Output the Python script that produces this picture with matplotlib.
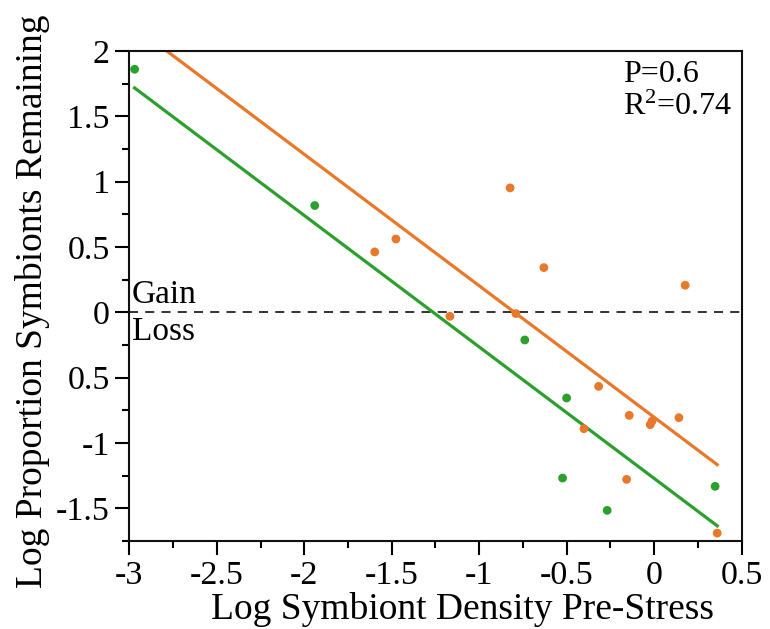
import matplotlib
matplotlib.use("Agg")
import matplotlib.pyplot as plt
import numpy as np
from matplotlib.ticker import MultipleLocator, FixedLocator, FixedFormatter

plt.rcParams['font.family'] = ['Liberation Serif', 'DejaVu Serif']
plt.rcParams['mathtext.fontset'] = 'custom'
plt.rcParams['mathtext.rm'] = 'Liberation Serif'
plt.rcParams['mathtext.default'] = 'regular'

# Data
green_x = [-2.97, -1.94, -0.739, -0.50, -0.523, -0.268, 0.349]
green_y = [1.86, 0.817, -0.212, -0.656, -1.269, -1.516, -1.332]

orange_x = [-1.597, -1.476, -0.823, -0.630, 0.178, -1.167, -0.79, -0.317,
            -0.142, -0.401, -0.022, -0.011, 0.142, -0.157, 0.361]
orange_y = [0.462, 0.561, 0.952, 0.342, 0.207, -0.031, -0.01, -0.567,
            -0.789, -0.891, -0.860, -0.832, -0.807, -1.279, -1.690]

# Fitted lines (common slope)
fit_slope = -1.006
green_intercept = -1.271
orange_intercept = -0.803
fit_x_range = [-2.97, 0.361]

x_ticks = [-3, -2.5, -2, -1.5, -1, -0.5, 0, 0.5]
x_tick_labels = ['-3', '-2.5', '-2', '-1.5', '-1', '-0.5', '0', '0.5']
y_ticks = [-1.5, -1, -0.5, 0, 0.5, 1, 1.5, 2]
y_tick_labels = ['-1.5', '-1', '0.5', '0', '0.5', '1', '1.5', '2']

GREEN = '#2ca02c'
ORANGE = '#e8782a'

fig = plt.figure(figsize=(7.7, 6.29), dpi=100)
ax = fig.add_axes([0.168, 0.140, 0.795, 0.779])

fx = np.array(fit_x_range)
ax.plot(fx, green_intercept + fit_slope * fx, color=GREEN, lw=2.3, zorder=2)
ax.plot(fx, orange_intercept + fit_slope * fx, color=ORANGE, lw=2.3, zorder=2)

ax.scatter(green_x, green_y, s=40, color=GREEN, edgecolors='none', zorder=3)
ax.scatter(orange_x, orange_y, s=40, color=ORANGE, edgecolors='none', zorder=3)

ax.plot([-3, 0.525], [0, 0], color='#222222', lw=1.3, ls=(0, (5, 4)),
        clip_on=False, zorder=1)

ax.set_xlim(-3, 0.5)
ax.set_ylim(-1.75, 2)

ax.xaxis.set_major_locator(FixedLocator(x_ticks))
ax.xaxis.set_major_formatter(FixedFormatter(x_tick_labels))
ax.yaxis.set_major_locator(FixedLocator(y_ticks))
ax.yaxis.set_major_formatter(FixedFormatter(y_tick_labels))
ax.xaxis.set_minor_locator(MultipleLocator(0.25))
ax.yaxis.set_minor_locator(MultipleLocator(0.25))

ax.tick_params(which='both', direction='out', top=False, right=False,
               width=1.5, colors='black', labelsize=24.5)
ax.tick_params(which='major', length=10)
ax.tick_params(which='minor', length=5)
ax.tick_params(axis='x', pad=4)
ax.tick_params(axis='y', pad=4)

for sp in ax.spines.values():
    sp.set_linewidth(1.5)
    sp.set_color('#111111')

ax.set_xlabel('Log Symbiont Density Pre-Stress', fontsize=27)
ax.set_ylabel('Log Proportion Symbionts Remaining', fontsize=27)
ax.xaxis.set_label_coords(0.544, -0.105)
ax.yaxis.set_label_coords(-0.130, 0.489)

ax.text(-2.985, 0.02, 'Gain', fontsize=24, ha='left', va='bottom')
ax.text(-2.985, -0.03, 'Loss', fontsize=24, ha='left', va='top')

ax.text(-0.175, 1.761, 'P=0.6', fontsize=23, ha='left', va='baseline')
ax.text(-0.175, 1.508, 'R$^{2}$=0.74', fontsize=23, ha='left', va='baseline')

fig.savefig('out.png', dpi=100)
